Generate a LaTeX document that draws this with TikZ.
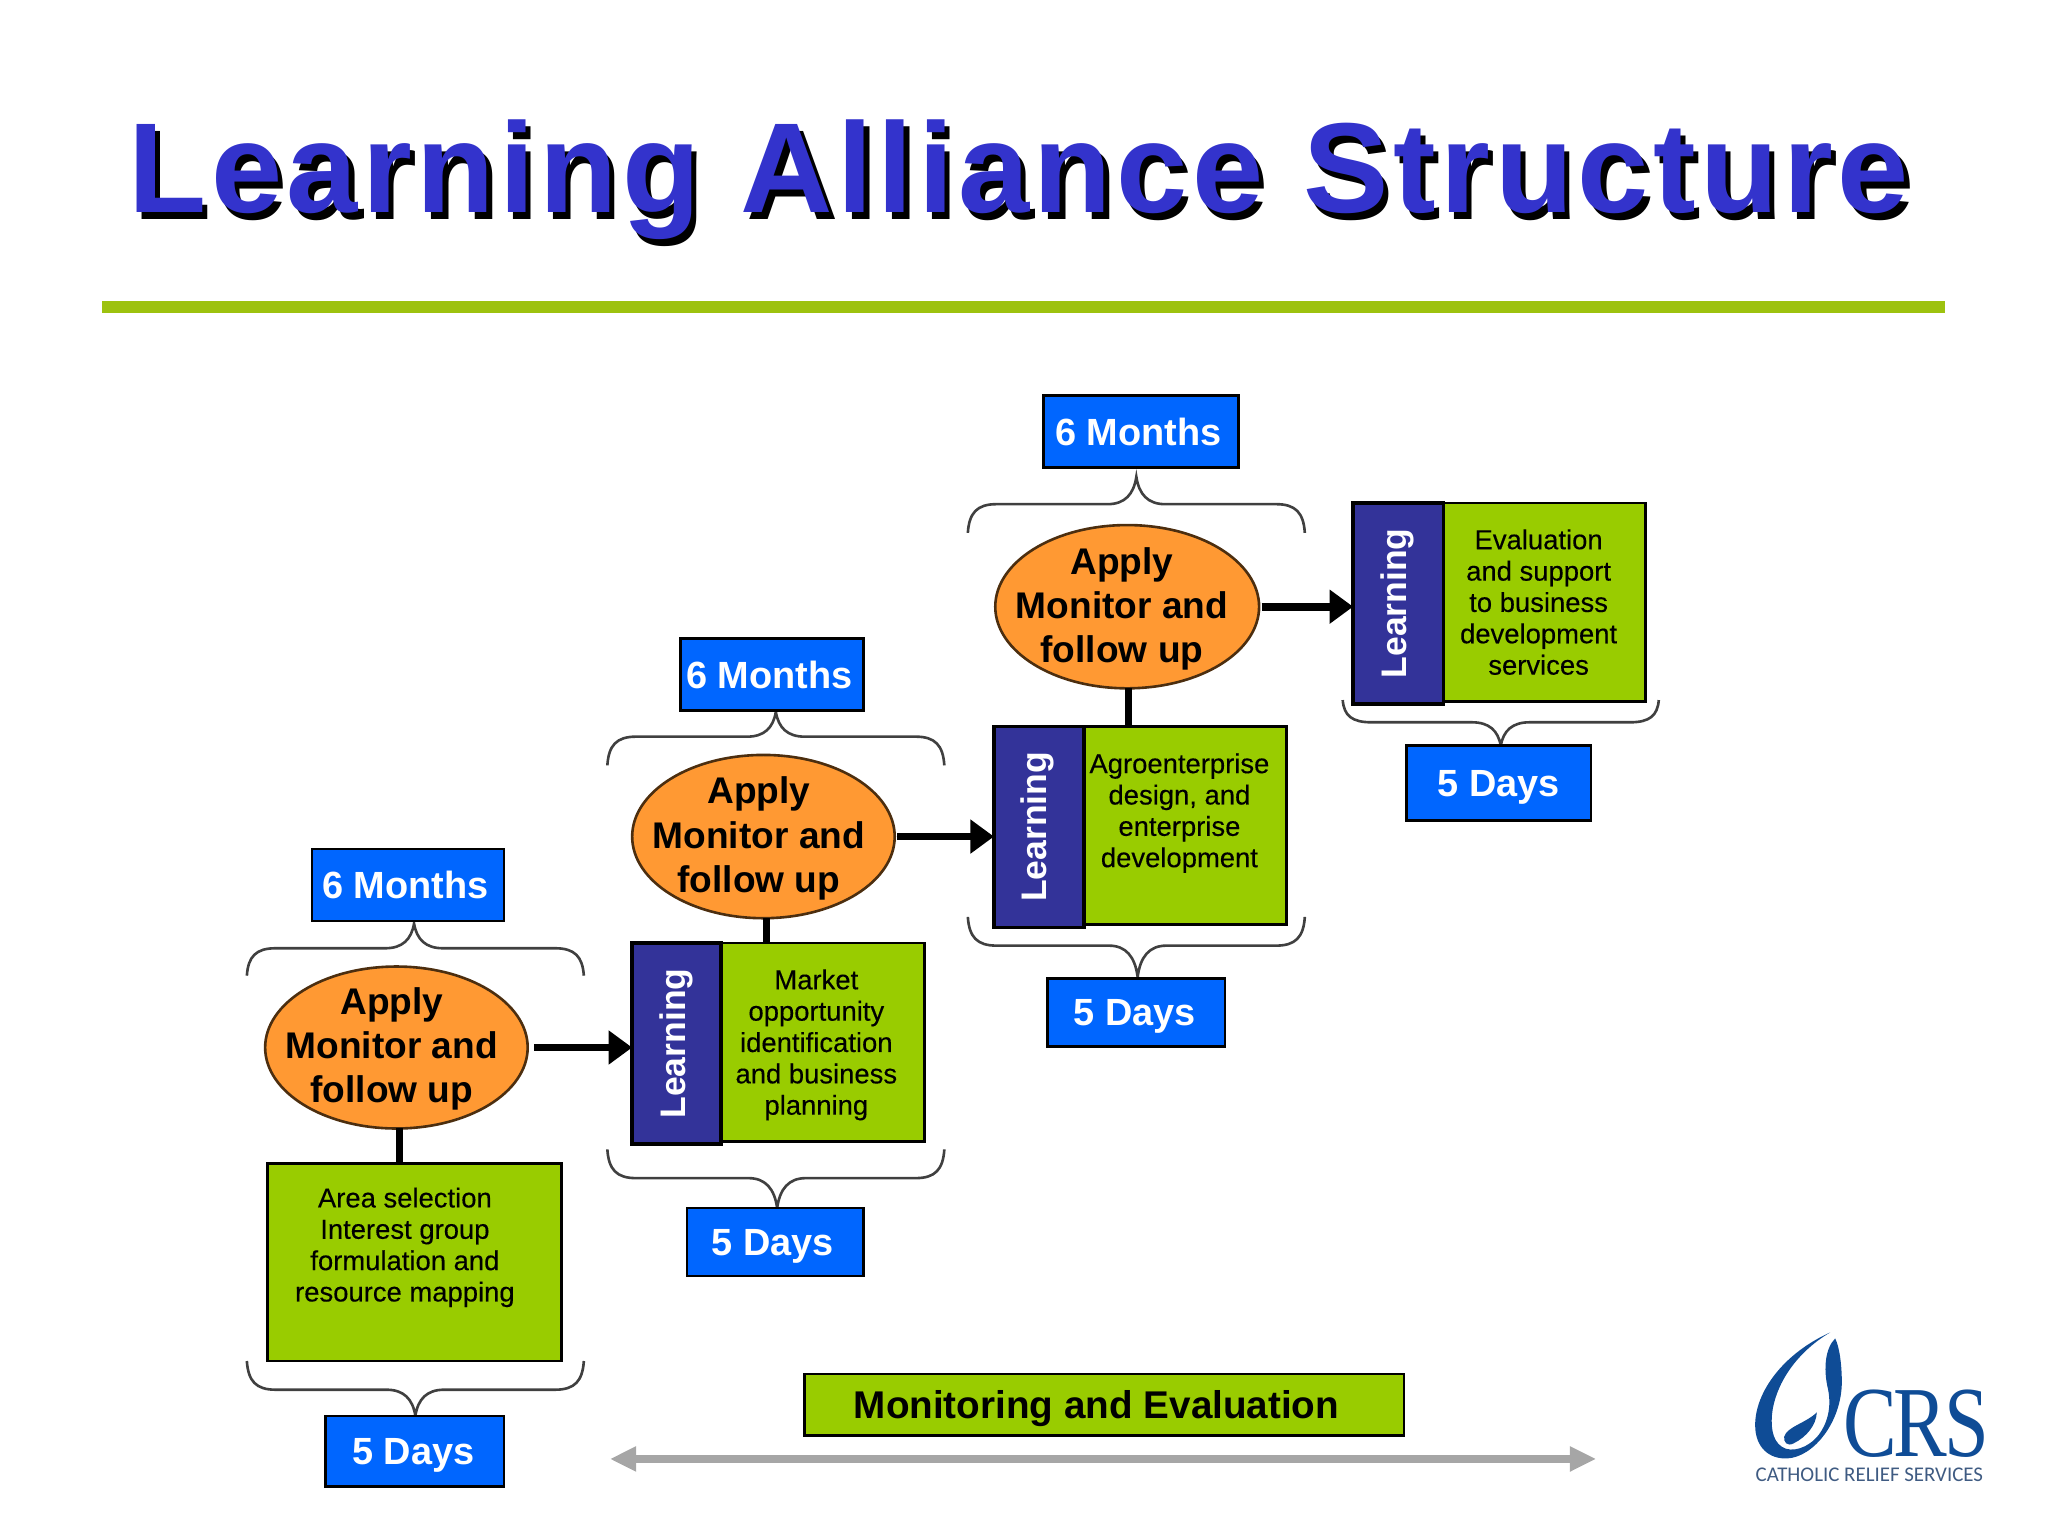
\documentclass[tikz,border=0pt]{standalone}
\usepackage{fontspec}
\setmainfont{Liberation Sans}
\newfontfamily\logoserif{Liberation Serif}
\newfontfamily\logosans{Carlito}
\newfontfamily\titlefont[LetterSpace=3.55]{Liberation Sans Bold}
\newfontfamily\topicfont[FakeBold=0.25]{Liberation Sans}
\usetikzlibrary{arrows.meta,calc,shapes.geometric}
\definecolor{bluebox}{HTML}{0066FF}
\definecolor{orangeel}{HTML}{FF9933}
\definecolor{greenbox}{HTML}{99CC00}
\definecolor{navybox}{HTML}{333399}
\definecolor{titleblue}{HTML}{3333CC}
\definecolor{rulegreen}{HTML}{9DC20F}
\definecolor{logoblue}{HTML}{0F4C96}
\definecolor{logotext}{HTML}{3F5B82}
\definecolor{bracegrey}{HTML}{404040}
\tikzset{
  x=0.5pt,y=-0.5pt,
  period/.style={draw=black,line width=1pt,fill=bluebox,text=white,font=\fontsize{14.5}{17}\bfseries\selectfont,inner sep=0pt,outer sep=0pt},
  daysbox/.style={period,text depth=0pt},
  topic/.style={draw=black,line width=1pt,fill=greenbox,inner sep=0pt,outer sep=0pt},
  topictext/.style={align=center,font=\fontsize{10.5}{12}\topicfont\selectfont,text=black,inner sep=0pt},
  learnbox/.style={draw=black,line width=1.3pt,fill=navybox,inner sep=0pt,outer sep=0pt},
  learntext/.style={text=white,rotate=90,font=\fontsize{13.6}{16}\bfseries\selectfont,inner sep=0pt},
  applyel/.style={ellipse,draw=black!70!orangeel,line width=1pt,fill=orangeel,inner sep=0pt,outer sep=0pt},
  applytext/.style={align=center,inner sep=0pt,text=black,font=\fontsize{14.2}{16.9}\bfseries\selectfont},
  flowarrow/.style={line width=3pt,black,-{Triangle[length=9pt,width=12.5pt]}},
  linkbar/.style={line width=2.8pt,black},
  bracepath/.style={line width=1pt,bracegrey},
  titletext/.style={font=\fontsize{49}{58}\titlefont\selectfont,inner sep=0pt,anchor=base},
}
\newcommand{\drawbx}[7]{%
  \pgfmathsetmacro{\bxcx}{(#3+#5)/2}\pgfmathsetmacro{\bxcy}{(#4+#6)/2}%
  \pgfmathsetmacro{\bxw}{(#5-#3)*0.5}\pgfmathsetmacro{\bxh}{(#6-#4)*0.5}%
  \node[#2,minimum width=\bxw pt,minimum height=\bxh pt] (#1) at (\bxcx,\bxcy) {#7};}
\newcommand{\curlybr}[6]{% x0 x1 yflat yend xtip ytip
  \pgfmathsetmacro{\ba}{#1+22}\pgfmathsetmacro{\bb}{#5-22}\pgfmathsetmacro{\bc}{#5+22}\pgfmathsetmacro{\bd}{#2-22}%
  \pgfmathsetmacro{\bxa}{#1+1}\pgfmathsetmacro{\bxb}{#1+7}\pgfmathsetmacro{\bxc}{#5-9}\pgfmathsetmacro{\bxd}{#5-2}%
  \pgfmathsetmacro{\bxe}{#5+2}\pgfmathsetmacro{\bxf}{#5+9}\pgfmathsetmacro{\bxg}{#2-7}\pgfmathsetmacro{\bxh}{#2-1}%
  \pgfmathsetmacro{\bym}{#3+(#6-#3)*0.35}\pgfmathsetmacro{\byn}{#3+(#4-#3)*0.3}%
  \draw[bracepath] (#1,#4) .. controls (\bxa,\byn) and (\bxb,#3) .. (\ba,#3) -- (\bb,#3)
    .. controls (\bxc,#3) and (\bxd,\bym) .. (#5,#6)
    .. controls (\bxe,\bym) and (\bxf,#3) .. (\bc,#3) -- (\bd,#3)
    .. controls (\bxg,#3) and (\bxh,\byn) .. (#2,#4);}
\begin{document}
\begin{tikzpicture}
\useasboundingbox (0,0) rectangle (1568,1176);
% title
\node[titletext,text=black] (titleshadow) at (784,168) {Learning Alliance Structure};
\node[titletext,text=titleblue] (titlemain) at (780,163) {Learning Alliance Structure};
\fill[rulegreen] (78,230.5) rectangle (1489,239.5);
% braces
\curlybr{189}{447}{726}{747}{317}{707}
\curlybr{465}{723}{564}{586}{594}{545}
\curlybr{741}{999}{386}{408}{870}{365}
\curlybr{189}{447}{1064}{1042}{318}{1084}
\curlybr{465}{723}{902}{880}{595}{925}
\curlybr{741}{999}{724}{702}{871}{748}
\curlybr{1028}{1270}{553}{536}{1149}{571}
% period boxes
\drawbx{mA}{period}{239}{650}{386}{705}{\hspace*{-2pt}6 Months}
\drawbx{mB}{period}{521}{489}{661}{544}{\hspace*{-2pt}6 Months}
\drawbx{mC}{period}{799}{303}{948}{358}{\hspace*{-2pt}6 Months}
\drawbx{dA}{daysbox}{249}{1084}{386}{1138}{\hspace*{-1pt}5 Days}
\drawbx{dB}{daysbox}{526}{925}{661}{977}{\hspace*{-2pt}5 Days}
\drawbx{dC}{daysbox}{802}{749}{938}{801}{\hspace*{-1pt}5 Days}
\drawbx{dD}{daysbox}{1077}{571}{1218}{628}{5 Days}
% topics
\drawbx{gA}{topic}{205}{891}{430}{1042}{}
\node[topictext] (tA) at (310,955) {Area selection\\Interest group\\formulation and\\resource mapping};
\drawbx{gB}{topic}{552}{722}{708}{874}{}
\node[topictext] (tB) at (625,800) {Market\\opportunity\\identification\\and business\\planning};
\drawbx{gC}{topic}{830}{556}{985}{708}{}
\node[topictext] (tC) at (903,622.5) {Agroenterprise\\design, and\\enterprise\\development};
\drawbx{gD}{topic}{1105}{385}{1260}{537}{}
\node[topictext] (tD) at (1178,461) {Evaluation\\and support\\to business\\development\\services};
% learning
\drawbx{nB}{learnbox}{484}{722}{552}{876}{}
\node[learntext] (lB) at (518,799) {Learning};
\drawbx{nC}{learnbox}{761}{556}{830}{710}{}
\node[learntext] (lC) at (794,633) {Learning};
\drawbx{nD}{learnbox}{1036}{385}{1105}{539}{}
\node[learntext] (lD) at (1070,462) {Learning};
% ellipses
\drawbx{eA}{applyel}{203}{740}{404}{864}{}
\node[applytext] (aA) at (300,803) {Apply\\Monitor and\\follow up};
\drawbx{eB}{applyel}{484}{578}{685}{703}{}
\node[applytext] (aB) at (581,642) {Apply\\Monitor and\\follow up};
\drawbx{eC}{applyel}{762}{402}{964}{527}{}
\node[applytext] (aC) at (859,466) {Apply\\Monitor and\\follow up};
% links
\draw[linkbar] ([xshift=1.2pt]eA.south) -- ([xshift=1.2pt]eA.south |- gA.north);
\draw[linkbar] ([xshift=1.2pt]eB.south) -- ([xshift=1.2pt]eB.south |- gB.north);
\draw[linkbar] ([xshift=0.5pt]eC.south) -- ([xshift=0.5pt]eC.south |- gC.north);
\draw[flowarrow,shorten <=2.5pt] (eA.east) -- (eA.east -| nB.west);
\draw[flowarrow,shorten <=1pt] (eB.east) -- (eB.east -| nC.west);
\draw[flowarrow,shorten <=1pt] (eC.east) -- (eC.east -| nD.west);
% monitoring and evaluation
\drawbx{me}{topic,text depth=0pt,font=\fontsize{14.8}{17}\bfseries\selectfont}{616}{1052}{1075}{1099}{\hspace*{-6pt}Monitoring and Evaluation}
\coordinate (mel) at (467,1117);
\coordinate (mer) at (1222,1117);
\draw[line width=3pt,black!35,{Triangle[length=10pt,width=9pt]}-{Triangle[length=10pt,width=9pt]}] (mel) -- (mer);
% logo
\begin{scope}[shift={(1263.4,995.4)},x=0.1276pt,y=-0.1276pt]
\begin{scope}[shift={(300,75)}]
\fill[logoblue] (240,22) .. controls (100,85) and (15,200) .. (15,300)
  .. controls (15,370) and (60,402) .. (110,400)
  .. controls (190,397) and (275,290) .. (275,170)
  .. controls (275,120) and (268,65) .. (255,40)
  .. controls (225,70) and (220,130) .. (232,185)
  .. controls (245,240) and (235,290) .. (205,330)
  .. controls (175,368) and (125,385) .. (95,365)
  .. controls (65,345) and (60,300) .. (68,250)
  .. controls (85,160) and (150,75) .. (240,22) -- cycle;
\fill[logoblue] (200,262) .. controls (198,300) and (170,335) .. (130,355)
  .. controls (110,365) and (100,350) .. (102,335)
  .. controls (110,305) and (165,295) .. (200,262) -- cycle;
\end{scope}
\node[anchor=base west,inner sep=0pt,text=logoblue,font=\logoserif\fontsize{38.5}{40}\selectfont,xscale=0.8,transform shape] (crs) at (580,470) {C\kern-2pt R\kern-1.5pt S};
\node[anchor=base west,inner sep=0pt,text=logotext,font=\logosans\fontsize{8}{9}\selectfont] (crsname) at (315,545) {CATHOLIC RELIEF SERVICES};
\end{scope}
\end{tikzpicture}
\end{document}
